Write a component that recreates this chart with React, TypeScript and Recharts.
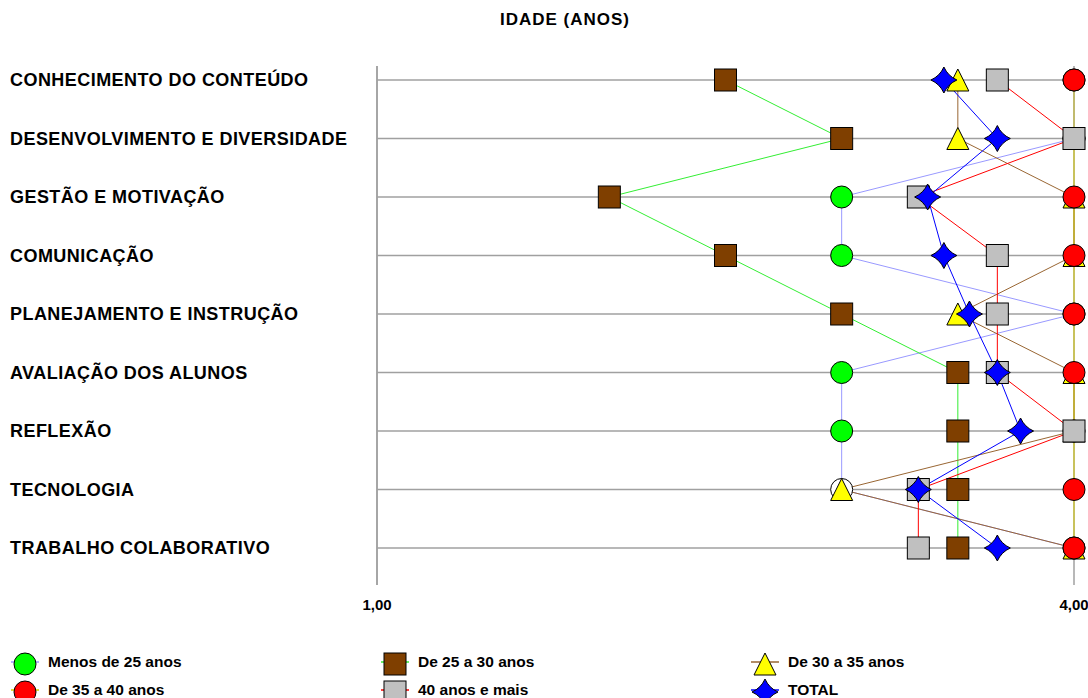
import React from 'react';
import { LineChart, Line, XAxis, YAxis, CartesianGrid } from 'recharts';

const categories = [
  'CONHECIMENTO DO CONTEÚDO',
  'DESENVOLVIMENTO E DIVERSIDADE',
  'GESTÃO E MOTIVAÇÃO',
  'COMUNICAÇÃO',
  'PLANEJAMENTO E INSTRUÇÃO',
  'AVALIAÇÃO DOS ALUNOS',
  'REFLEXÃO',
  'TECNOLOGIA',
  'TRABALHO COLABORATIVO',
];

const menos25 = [4, 4, 3, 3, 4, 3, 3, 3, 4];
const de25a30 = [2.5, 3, 2, 2.5, 3, 3.5, 3.5, 3.5, 3.5];
const de30a35 = [3.5, 3.5, 4, 4, 3.5, 4, 4, 3, 4];
const de35a40 = [4, 4, 4, 4, 4, 4, 4, 4, 4];
const mais40 = [3.67, 4, 3.33, 3.67, 3.67, 3.67, 4, 3.33, 3.33];
const total = [3.44, 3.67, 3.37, 3.44, 3.55, 3.67, 3.77, 3.33, 3.67];

const xTicks = [1, 4];

type Shape = 'circle' | 'square' | 'triangle' | 'star';

const series: { key: string; name: string; line: string; fill: string; shape: Shape; values: number[] }[] = [
  { key: 'menos25', name: 'Menos de 25 anos', line: '#9999ff', fill: '#00ff00', shape: 'circle', values: menos25 },
  { key: 'de25a30', name: 'De 25 a 30 anos', line: '#33ee33', fill: '#7f3f00', shape: 'square', values: de25a30 },
  { key: 'de30a35', name: 'De 30 a 35 anos', line: '#996633', fill: '#ffff00', shape: 'triangle', values: de30a35 },
  { key: 'de35a40', name: 'De 35 a 40 anos', line: '#d8cc00', fill: '#ff0000', shape: 'circle', values: de35a40 },
  { key: 'mais40', name: '40 anos e mais', line: '#ff0000', fill: '#c0c0c0', shape: 'square', values: mais40 },
  { key: 'total', name: 'TOTAL', line: '#0000ff', fill: '#0000ff', shape: 'star', values: total },
];

const data = categories.map((name, i) => {
  const row: Record<string, string | number> = { name };
  series.forEach((s) => (row[s.key] = s.values[i]));
  return row;
});

const font = '"Liberation Sans", Arial, sans-serif';

function Marker({ shape, fill, cx, cy }: { shape: Shape; fill: string; cx: number; cy: number }) {
  const st = { fill, stroke: '#000', strokeWidth: 1 };
  if (shape === 'circle') return <circle cx={cx} cy={cy} r={11} {...st} />;
  if (shape === 'square') return <rect x={cx - 11} y={cy - 11} width={22} height={22} {...st} />;
  if (shape === 'triangle')
    return <path d={`M${cx},${cy - 11} L${cx + 11},${cy + 11} L${cx - 11},${cy + 11} Z`} {...st} />;
  // four-point star, slightly concave sides
  const r = 13;
  const k = 4;
  return (
    <path
      d={`M${cx},${cy - r} Q${cx + k},${cy - k} ${cx + r},${cy} Q${cx + k},${cy + k} ${cx},${cy + r} Q${cx - k},${cy + k} ${cx - r},${cy} Q${cx - k},${cy - k} ${cx},${cy - r} Z`}
      {...st}
    />
  );
}

function CategoryTick({ y, payload }: any) {
  return (
    <text x={10} y={y} dy={6} textAnchor="start" fontFamily={font} fontWeight="bold" fontSize={18} letterSpacing={0.45} fill="#000">
      {payload.value}
    </text>
  );
}

function LegendItem({ s, x, y }: { s: (typeof series)[number]; x: number; y: number }) {
  return (
    <g>
      <line x1={x - 14} x2={x + 14} y1={y} y2={y} stroke={s.line} strokeWidth={1.5} />
      <Marker shape={s.shape} fill={s.fill} cx={x} cy={y + 2} />
      <text x={x + 23} y={y + 5} fontFamily={font} fontWeight="bold" fontSize={15.5} fill="#000">
        {s.name}
      </text>
    </g>
  );
}

export default function App() {
  const cols = [25, 395, 765];
  const rows = [662, 690];
  return (
    <div style={{ position: 'relative', width: 1088, height: 698, background: '#fff', fontFamily: font }}>
      <style>{'body{margin:0}'}</style>
      <div style={{ position: 'absolute', left: 0, width: 1130, top: 10, textAlign: 'center', fontWeight: 'bold', fontSize: 17, letterSpacing: 1 }}>
        IDADE (ANOS)
      </div>
      <div style={{ position: 'absolute', left: 0, top: 0 }}>
        <LineChart width={1088} height={630} data={data} layout="vertical" margin={{ top: 66, right: 14, left: 0, bottom: 15 }}>
          <CartesianGrid stroke="#a0a0a0" strokeWidth={1.5} syncWithTicks />
          <XAxis
            type="number"
            domain={[1, 4]}
            ticks={xTicks}
            axisLine={false}
            tickLine={false}
            tickMargin={8}
            height={30}
            tickFormatter={(v: number) => v.toFixed(2).replace('.', ',')}
            tick={{ fontFamily: font, fontWeight: 'bold', fontSize: 15, fill: '#000' }}
          />
          <YAxis
            type="category"
            dataKey="name"
            width={377}
            padding={{ top: 14, bottom: 37 }}
            axisLine={{ stroke: '#a0a0a0', strokeWidth: 1.5 }}
            tickLine={false}
            tick={<CategoryTick />}
            interval={0}
          />
          {series.map((s) => (
            <Line
              key={s.key}
              dataKey={s.key}
              name={s.name}
              stroke={s.line}
              strokeWidth={1}
              isAnimationActive={false}
              dot={(p: any) => (
                <Marker
                  key={`${s.key}-${p.index}`}
                  shape={s.shape}
                  fill={s.key === 'menos25' && p.index === 7 ? '#ffffff' : s.fill}
                  cx={p.cx}
                  cy={p.cy}
                />
              )}
              activeDot={false}
            />
          ))}
        </LineChart>
      </div>
      <svg style={{ position: 'absolute', left: 0, top: 0 }} width={1088} height={698} pointerEvents="none">
        {series.map((s, i) => (
          <LegendItem key={s.key} s={s} x={cols[i % 3]} y={rows[Math.floor(i / 3)]} />
        ))}
      </svg>
    </div>
  );
}
